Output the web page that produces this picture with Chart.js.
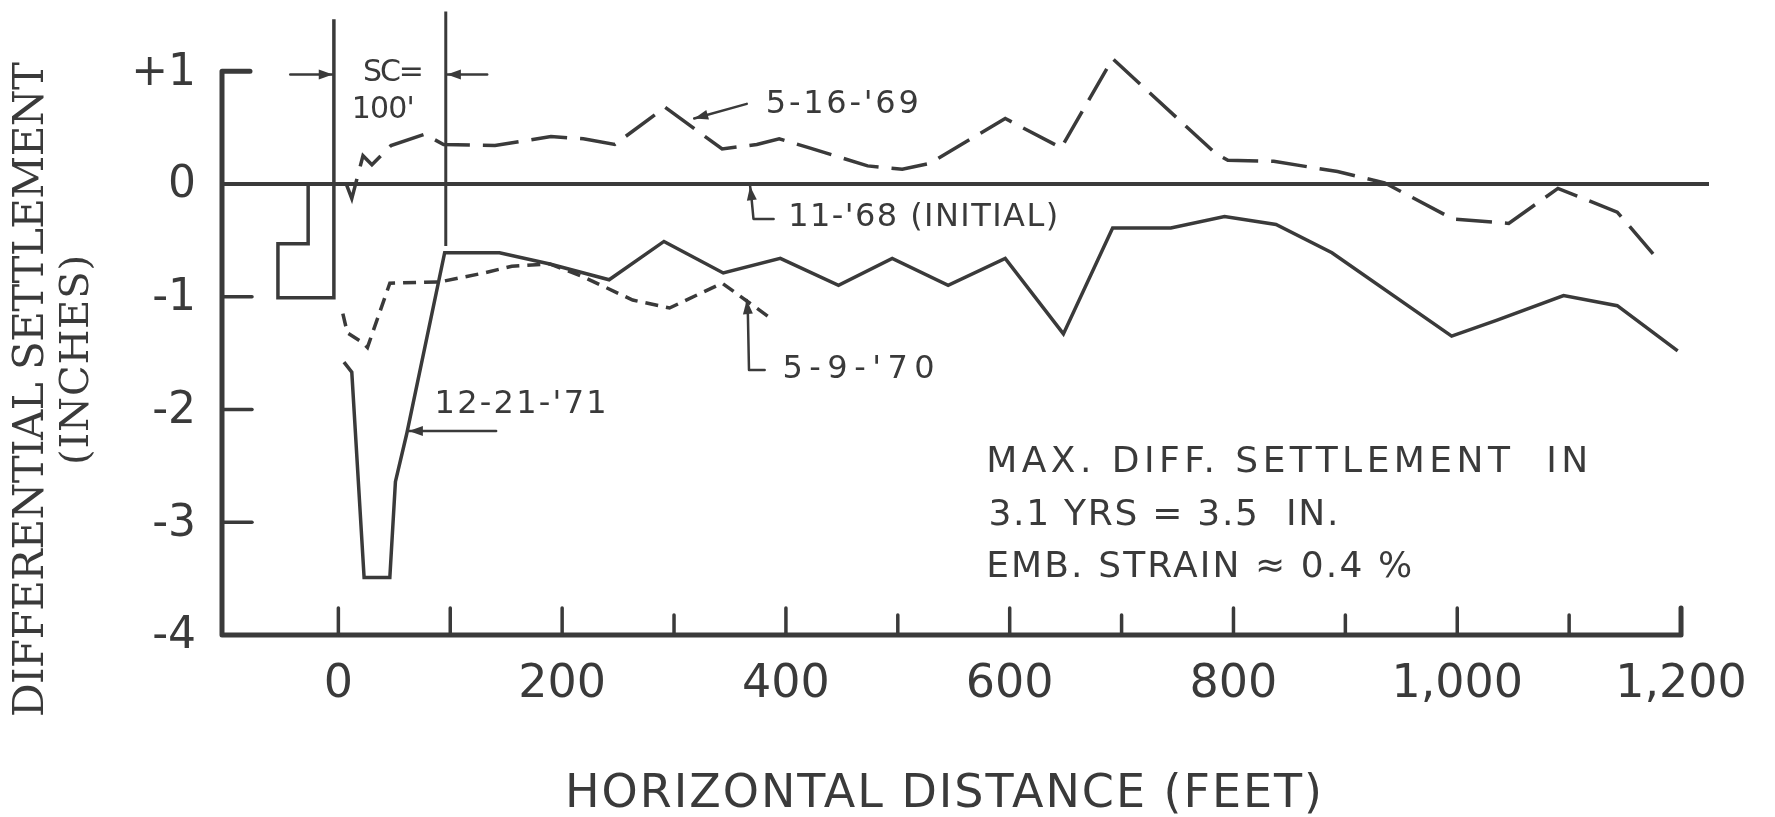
<!DOCTYPE html>
<html>
<head>
<meta charset="utf-8">
<script src="https://cdn.jsdelivr.net/npm/chart.js@4.4.0/dist/chart.umd.min.js"></script>
<style>
  html, body { margin: 0; padding: 0; background: #fff; }
  #chart { display: block; }
</style>
</head>
<body>
<canvas id="chart" width="1775" height="817"></canvas>
<script>
// horizontal distance (ft) / differential settlement (in)
const initialX = [-104, 1225];
const initialY = [0, 0];

const may69X = [7, 12, 22, 30, 47, 77, 94, 140, 190, 219, 247, 292, 343, 374, 394, 421, 473, 504, 528, 596, 646, 692, 784, 795, 836, 893, 935, 996, 1046, 1090, 1143, 1182];
const may69Y = [0, -0.13, 0.25, 0.17, 0.34, 0.44, 0.35, 0.34, 0.42, 0.40, 0.35, 0.68, 0.31, 0.35, 0.40, 0.32, 0.16, 0.13, 0.18, 0.58, 0.32, 1.11, 0.27, 0.21, 0.20, 0.11, 0.01, -0.31, -0.35, -0.04, -0.25, -0.70];

const may70X = [4, 8, 22, 26, 46, 90, 130, 155, 189, 218, 263, 296, 343, 389];
const may70Y = [-1.15, -1.32, -1.41, -1.45, -0.88, -0.87, -0.79, -0.73, -0.71, -0.82, -1.03, -1.10, -0.88, -1.21];

const dec71X = [5, 12, 23, 46, 51, 61, 95, 144, 189, 242, 291, 344, 395, 447, 495, 545, 596, 648, 692, 744, 792, 838, 888, 995, 1035, 1095, 1143, 1197];
const dec71Y = [-1.58, -1.67, -3.49, -3.49, -2.64, -2.22, -0.61, -0.61, -0.71, -0.85, -0.51, -0.79, -0.66, -0.90, -0.66, -0.90, -0.66, -1.33, -0.39, -0.39, -0.29, -0.36, -0.61, -1.35, -1.21, -0.99, -1.08, -1.48];

// SC = 100' boundary marks
const scLeftX = [-27, -27, -54, -54, -4, -4];
const scLeftY = [0, -0.53, -0.53, -1.01, -1.01, 1.46];
const scRightX = [96, 96];
const scRightY = [1.53, -0.55];

const xTicks = [0, 100, 200, 300, 400, 500, 600, 700, 800, 900, 1000, 1100];
const xLabelValues = [0, 200, 400, 600, 800, 1000, 1200];
const xLabels = ["0", "200", "400", "600", "800", "1,000", "1,200"];
const yTicks = [-1, -2, -3];
const yLabelValues = [1, 0, -1, -2, -3, -4];
const yLabels = ["+1", "0", "-1", "-2", "-3", "-4"];

const ink = "#3a3a3a";

function pts(xs, ys) {
  return xs.map((x, i) => ({ x: x, y: ys[i] }));
}

function fitText(ctx, text, left, y, width) {
  ctx.letterSpacing = "0px";
  let w = ctx.measureText(text).width;
  let ls = (width - w) / Math.max(1, text.length - 1);
  ctx.letterSpacing = ls + "px";
  ctx.textAlign = "left";
  ctx.fillText(text, left, y);
  ctx.letterSpacing = "0px";
}

function arrow(ctx, x1, y1, x2, y2) {
  let a = Math.atan2(y2 - y1, x2 - x1);
  ctx.beginPath();
  ctx.moveTo(x1, y1);
  ctx.lineTo(x2, y2);
  ctx.stroke();
  ctx.beginPath();
  ctx.moveTo(x2, y2);
  ctx.lineTo(x2 - 14 * Math.cos(a) + 5 * Math.sin(a), y2 - 14 * Math.sin(a) - 5 * Math.cos(a));
  ctx.lineTo(x2 - 14 * Math.cos(a) - 5 * Math.sin(a), y2 - 14 * Math.sin(a) + 5 * Math.cos(a));
  ctx.closePath();
  ctx.fill();
}

const frame = {
  id: "frame",
  beforeDatasetsDraw(chart) {
    const { ctx, scales } = chart;
    const px = (v) => scales.x.getPixelForValue(v);
    const py = (v) => scales.y.getPixelForValue(v);
    const left = px(-104);

    ctx.save();
    ctx.strokeStyle = ink;
    ctx.fillStyle = ink;
    ctx.lineCap = "round";
    ctx.lineJoin = "round";

    // axes: bracket at +1, y axis, x axis turning up at 1,200
    ctx.lineWidth = 5;
    ctx.beginPath();
    ctx.moveTo(left + 28, py(1));
    ctx.lineTo(left, py(1));
    ctx.lineTo(left, py(-4));
    ctx.lineTo(px(1200), py(-4));
    ctx.lineTo(px(1200), py(-4) - 27);
    ctx.stroke();

    ctx.lineWidth = 3.5;
    yTicks.forEach((v) => {
      ctx.beginPath();
      ctx.moveTo(left, py(v));
      ctx.lineTo(left + 30, py(v));
      ctx.stroke();
    });
    xTicks.forEach((v) => {
      let len = v % 200 === 0 || v === 100 ? 27 : 20;
      ctx.beginPath();
      ctx.moveTo(px(v), py(-4));
      ctx.lineTo(px(v), py(-4) - len);
      ctx.stroke();
    });

    // tick labels
    ctx.font = "44px 'DejaVu Sans'";
    ctx.textBaseline = "middle";
    ctx.textAlign = "right";
    yLabelValues.forEach((v, i) => {
      ctx.fillText(yLabels[i], left - 26, py(v) + 2);
    });
    ctx.font = "46px 'DejaVu Sans'";
    ctx.textAlign = "center";
    ctx.textBaseline = "alphabetic";
    xLabelValues.forEach((v, i) => {
      ctx.fillText(xLabels[i], px(v), py(-4) + 62);
    });

    // axis titles
    ctx.textBaseline = "middle";
    ctx.font = "46px 'DejaVu Sans'";
    fitText(ctx, "HORIZONTAL DISTANCE (FEET)", 565, 795, 757);

    ctx.save();
    ctx.translate(32, 390);
    ctx.rotate(-Math.PI / 2);
    ctx.font = "42px 'DejaVu Serif'";
    fitText(ctx, "DIFFERENTIAL SETTLEMENT", -327, 0, 655);
    ctx.restore();
    ctx.save();
    ctx.translate(78, 360);
    ctx.rotate(-Math.PI / 2);
    ctx.font = "40px 'DejaVu Serif'";
    fitText(ctx, "(INCHES)", -105, 0, 210);
    ctx.restore();

    // SC = 100'
    ctx.font = "30px 'DejaVu Sans'";
    fitText(ctx, "SC=", px(22), py(0.98), 61);
    fitText(ctx, "100'", px(12), py(0.65), 63);
    ctx.lineWidth = 2.5;
    arrow(ctx, px(-43), py(0.97), px(-5), py(0.97));
    arrow(ctx, px(133), py(0.97), px(97), py(0.97));

    // curve labels with pointers
    ctx.font = "32px 'DejaVu Sans'";
    fitText(ctx, "5-16-'69", px(382), py(0.70), 153);
    arrow(ctx, px(365), py(0.71), px(318), py(0.58));

    fitText(ctx, "11-'68 (INITIAL)", px(402), py(-0.30), 270);
    ctx.beginPath();
    ctx.moveTo(px(389), py(-0.31));
    ctx.lineTo(px(371), py(-0.31));
    ctx.lineTo(px(369), py(-0.1));
    ctx.stroke();
    arrow(ctx, px(369), py(-0.1), px(368), py(-0.02));

    fitText(ctx, "5-9-'70", px(397), py(-1.65), 152);
    ctx.beginPath();
    ctx.moveTo(px(381), py(-1.65));
    ctx.lineTo(px(367), py(-1.65));
    ctx.lineTo(px(366), py(-1.15));
    ctx.stroke();
    arrow(ctx, px(366), py(-1.15), px(365), py(-1.03));

    fitText(ctx, "12-21-'71", px(86), py(-1.96), 172);
    arrow(ctx, px(141), py(-2.19), px(63), py(-2.19));

    // note
    ctx.font = "36px 'DejaVu Sans'";
    fitText(ctx, "MAX. DIFF. SETTLEMENT  IN", px(579), py(-2.47), 602);
    fitText(ctx, "3.1 YRS = 3.5  IN.", px(581), py(-2.94), 350);
    fitText(ctx, "EMB. STRAIN \u2248 0.4 %", px(579), py(-3.40), 426);

    ctx.restore();
  },
};

const line = (label, xs, ys, extra) =>
  Object.assign(
    {
      label: label,
      data: pts(xs, ys),
      showLine: true,
      borderColor: ink,
      borderWidth: 3.5,
      pointRadius: 0,
      tension: 0,
      fill: false,
    },
    extra || {}
  );

new Chart(document.getElementById("chart").getContext("2d"), {
  type: "scatter",
  data: {
    datasets: [
      line("11-'68 (INITIAL)", initialX, initialY, { borderWidth: 4 }),
      line("SC left", scLeftX, scLeftY, { borderWidth: 3.5 }),
      line("SC right", scRightX, scRightY, { borderWidth: 3 }),
      line("5-16-'69", may69X, may69Y, { borderDash: [36, 13] }),
      line("5-9-'70", may70X, may70Y, { borderDash: [13, 8] }),
      line("12-21-'71", dec71X, dec71Y),
    ],
  },
  options: {
    responsive: false,
    animation: false,
    devicePixelRatio: 1,
    layout: { padding: { left: 222, right: 66, top: 8, bottom: 182 } },
    scales: {
      x: { type: "linear", min: -104, max: 1225, display: false },
      y: { type: "linear", min: -4, max: 1.56, display: false },
    },
    plugins: { legend: { display: false }, tooltip: { enabled: false } },
  },
  plugins: [frame],
});
</script>
</body>
</html>
